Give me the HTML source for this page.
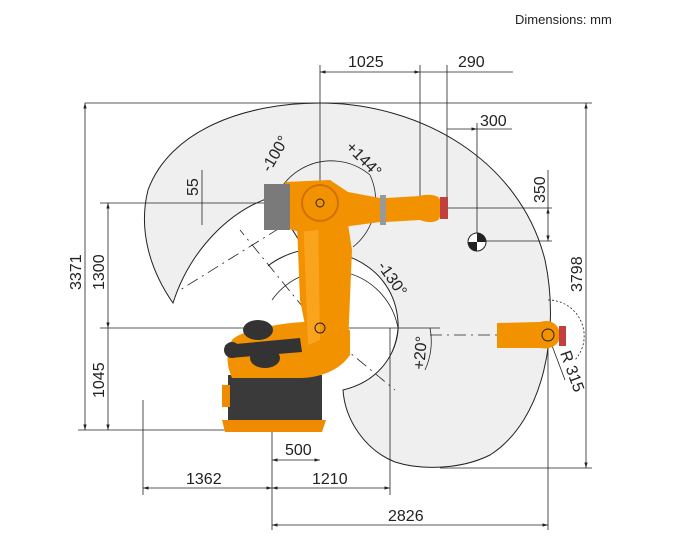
<!DOCTYPE html>
<html><head><meta charset="utf-8"><style>
html,body{margin:0;padding:0;background:#fff;width:673px;height:551px;overflow:hidden}
svg{display:block}
text{font-family:"Liberation Sans",sans-serif;fill:#222}
</style></head><body>
<svg width="673" height="551" viewBox="0 0 673 551" xmlns="http://www.w3.org/2000/svg">
<defs>
<marker id="a" viewBox="0 0 10 10" refX="10" refY="5" markerWidth="7" markerHeight="7" orient="auto-start-reverse"><path d="M0,2 L10,5 L0,8 z" fill="#222"/></marker>
</defs>
<text x="515" y="24" font-size="13">Dimensions: mm</text>

<!-- envelope -->
<path d="M173,303 C150,270 138,230 148,190 C170,130 245,103 320,103 C420,103 520,160 545,260 C560,330 545,420 490,455 C460,470 420,470 395,462 C365,450 345,420 343,390 C385,380 400,345 398,322 C395,275 355,248 305,250 L272,197 C230,210 190,250 173,303 Z" fill="#efefef" stroke="#222" stroke-width="1"/>
<path d="M305,250 C290,252 275,260 268,266" fill="none" stroke="#222" stroke-width="1"/>

<!-- dimension lines -->
<g stroke="#222" stroke-width="0.8" fill="none">
<line x1="85" y1="103" x2="592" y2="103"/>
<line x1="85" y1="103" x2="85" y2="430" marker-start="url(#a)" marker-end="url(#a)"/>
<line x1="78" y1="430" x2="230" y2="430"/>
<line x1="108" y1="203" x2="108" y2="328" marker-start="url(#a)" marker-end="url(#a)"/>
<line x1="108" y1="328" x2="108" y2="430" marker-end="url(#a)"/>
<line x1="100" y1="203" x2="320" y2="203"/>
<line x1="100" y1="328" x2="440" y2="328"/>
<line x1="586" y1="103" x2="586" y2="468" marker-start="url(#a)" marker-end="url(#a)"/>
<line x1="440" y1="468" x2="592" y2="468"/>
<line x1="320" y1="65" x2="320" y2="430"/>
<line x1="320" y1="72" x2="420" y2="72" marker-start="url(#a)" marker-end="url(#a)"/>
<line x1="420" y1="65" x2="420" y2="220"/>
<line x1="447" y1="65" x2="447" y2="200"/>
<line x1="420" y1="72" x2="513" y2="72"/>
<line x1="447" y1="129" x2="477" y2="129" marker-end="url(#a)"/>
<line x1="477" y1="123" x2="477" y2="242"/>
<line x1="477" y1="129" x2="512" y2="129"/>
<line x1="330" y1="208" x2="552" y2="208"/>
<line x1="548" y1="170" x2="548" y2="208"/>
<line x1="548" y1="208" x2="548" y2="241" marker-start="url(#a)" marker-end="url(#a)"/>
<line x1="470" y1="241" x2="552" y2="241"/>
<line x1="548" y1="335" x2="548" y2="530"/>
<line x1="202" y1="170" x2="202" y2="225"/>
<line x1="272" y1="400" x2="272" y2="530"/>
<line x1="143" y1="400" x2="143" y2="495"/>
<line x1="390" y1="328" x2="390" y2="495"/>
<line x1="272" y1="460" x2="320" y2="460" marker-start="url(#a)" marker-end="url(#a)"/>
<line x1="143" y1="488" x2="272" y2="488" marker-start="url(#a)" marker-end="url(#a)"/>
<line x1="272" y1="488" x2="390" y2="488" marker-start="url(#a)" marker-end="url(#a)"/>
<line x1="272" y1="525" x2="548" y2="525" marker-start="url(#a)" marker-end="url(#a)"/>
<!-- angle arcs -->
<path d="M272,230 A60,60 0 0 1 370,175" />
<path d="M370,175 A60,60 0 0 1 353,247"/>
<path d="M272,300 A70,70 0 0 1 398,328"/>
<path d="M398,328 A75,75 0 0 1 392,352"/>
<path d="M430,328 A70,70 0 0 1 425,370"/>
<path d="M548,300 A36,36 0 0 1 575,360" stroke-dasharray="2,2"/>
<line x1="548" y1="335" x2="565" y2="380"/>
<!-- dashed axis lines -->
<path d="M320,203 L180,290 M320,328 L240,230 M320,328 L395,390 M430,335 L548,335" stroke-dasharray="12,5,2,5"/>
</g>
<circle cx="477" cy="242" r="9" fill="#fff" stroke="#222"/>
<path d="M477,242 L477,233 A9,9 0 0 1 486,242 Z M477,242 L477,251 A9,9 0 0 1 468,242 Z" fill="#222"/>

<!-- robot -->
<!-- base -->
<rect x="228" y="375" width="94" height="45" fill="#3a3a3a"/>
<path d="M222,420 L326,420 L322,432 L225,432 Z" fill="#f08a00"/>
<rect x="222" y="385" width="8" height="22" fill="#f08a00"/>
<!-- turntable -->
<path d="M232,340 C240,330 290,320 322,322 L350,330 L350,355 C340,370 320,378 300,378 L232,378 C226,365 226,350 232,340 Z" fill="#f39200"/>
<!-- link arm -->
<path d="M296,200 L345,205 L352,250 L348,345 L310,350 L300,300 Z" fill="#f39200"/>
<path d="M303,210 L318,210 L320,340 L308,345 Z" fill="#ffb030" opacity="0.6"/>
<!-- forearm -->
<path d="M285,182 L330,180 L348,192 L380,198 L380,222 L350,226 L300,232 L285,228 Z" fill="#f39200"/>
<rect x="264" y="184" width="26" height="46" fill="#7a7a7a"/>
<rect x="380" y="195" width="6" height="30" fill="#999"/>
<path d="M386,198 L420,196 C430,193 440,196 440,200 L440,216 C440,222 430,224 420,220 L386,222 Z" fill="#f39200"/>
<rect x="440" y="197" width="8" height="22" fill="#c04040"/>
<circle cx="320" cy="203" r="18" fill="none" stroke="#d07000" stroke-width="2"/>
<circle cx="320" cy="203" r="4" fill="none" stroke="#222"/>
<!-- counterbalance -->
<path d="M225,345 L300,338 L302,352 L230,358 Z" fill="#333"/>
<ellipse cx="258" cy="330" rx="15" ry="10" fill="#333"/>
<ellipse cx="265" cy="358" rx="15" ry="10" fill="#333"/>
<circle cx="232" cy="350" r="8" fill="#333"/>
<circle cx="320" cy="328" r="5" fill="none" stroke="#222"/>
<!-- wrist -->
<path d="M497,323 L540,322 C552,318 560,326 560,335 C560,344 552,350 540,348 L497,348 Z" fill="#f39200"/>
<rect x="559" y="326" width="7" height="20" fill="#c04040"/>
<circle cx="548" cy="335" r="6" fill="none" stroke="#222"/>

<!-- labels -->
<g font-size="16">
<text x="348" y="67">1025</text>
<text x="458" y="67">290</text>
<text x="480" y="126">300</text>
<text x="285" y="455">500</text>
<text x="186" y="484">1362</text>
<text x="312" y="484">1210</text>
<text x="388" y="521">2826</text>
<text transform="translate(81,290) rotate(-90)">3371</text>
<text transform="translate(104,290) rotate(-90)">1300</text>
<text transform="translate(104,398) rotate(-90)">1045</text>
<text transform="translate(198,196) rotate(-90)">55</text>
<text transform="translate(545,203) rotate(-90)">350</text>
<text transform="translate(582,292) rotate(-90)">3798</text>
<text transform="translate(270,173) rotate(-60)">-100°</text>
<text transform="translate(345,148) rotate(45)">+144°</text>
<text transform="translate(377,266) rotate(55)">-130°</text>
<text transform="translate(424,370) rotate(-85)">+20°</text>
<text transform="translate(560,353) rotate(70)">R 315</text>
</g>
</svg>
</body></html>
